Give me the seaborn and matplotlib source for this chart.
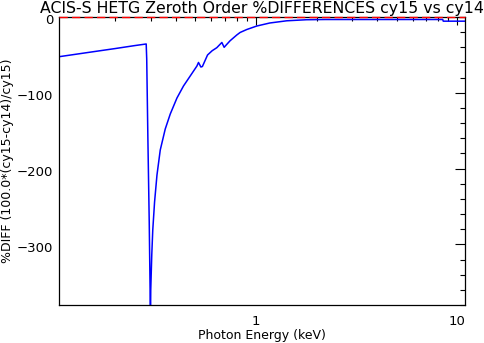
import numpy as np
import pandas as pd
import seaborn as sns
import matplotlib
matplotlib.use("Agg")
import matplotlib.pyplot as plt
from matplotlib.transforms import ScaledTranslation
from matplotlib.ticker import LogLocator, MultipleLocator, FuncFormatter, NullFormatter

# Photon energy grid (keV) and percent difference between cycles
energy_kev = [0.105, 0.150, 0.200, 0.250, 0.2846, 0.2863, 0.2902, 0.2947, 0.2982,
              0.2990, 0.2998, 0.3033, 0.3068, 0.3132, 0.3219, 0.3342, 0.3538,
              0.3747, 0.4045, 0.4360, 0.4709, 0.5082, 0.5175, 0.5320, 0.5412,
              0.5740, 0.6050, 0.6380, 0.6760, 0.6940, 0.7100, 0.7430, 0.8020,
              0.8330, 0.8990, 1.0080, 1.1700, 1.4200, 1.7800, 2.2000, 8.4500,
              8.5000, 10.900]
pct_diff = [-52.4, -46.4, -41.6, -37.7, -35.6, -55.4, -162.0, -272.0, -380.0,
            -395.0, -360.0, -314.0, -281.0, -244.0, -208.5, -175.5, -147.8,
            -128.0, -106.9, -91.0, -77.8, -64.7, -60.0, -66.0, -65.3,
            -50.1, -44.5, -40.5, -33.6, -40.0, -37.0, -31.3, -23.7,
            -20.4, -16.5, -11.9, -7.9, -5.0, -3.6, -3.3, -3.3,
            -5.5, -5.5]

x_tick_values = [1, 10]
x_tick_labels = ["1", "10"]
y_tick_values = [0, -100, -200, -300]

title = "ACIS-S HETG Zeroth Order %DIFFERENCES cy15 vs cy14"
xlabel = "Photon Energy (keV)"
ylabel = "%DIFF (100.0*(cy15-cy14)/cy15)"

df = pd.DataFrame({"energy": energy_kev, "diff": pct_diff})

sns.set_theme(style="white")
plt.rcParams["font.family"] = ["DejaVu Sans"]

W, H = 485, 343
fig = plt.figure(figsize=(W / 100, H / 100), dpi=100)
ax = fig.add_axes([59 / W, 1 - 305 / H, (465 - 59) / W, (305 - 17) / H])
ax.set_facecolor("white")

ax.set_xscale("log")
ax.set_xlim(0.105, 10.9)
ax.set_ylim(-380, 0)

# zero reference line
ax.axhline(0, color="red", lw=1.0, dashes=(6, 3), zorder=4, clip_on=False)

sns.lineplot(data=df, x="energy", y="diff", ax=ax, color="blue", lw=1.1,
             sort=False, estimator=None, legend=False)

for s in ax.spines.values():
    s.set_color("black")
    s.set_linewidth(0.9)

ax.xaxis.set_major_locator(LogLocator(base=10, numticks=10))
ax.xaxis.set_minor_locator(LogLocator(base=10, subs=np.arange(2, 10), numticks=20))
ax.xaxis.set_major_formatter(FuncFormatter(
    lambda v, p: x_tick_labels[x_tick_values.index(round(v))]
    if round(v) in x_tick_values and abs(v - round(v)) < 1e-6 else ""))
ax.xaxis.set_minor_formatter(NullFormatter())

ax.set_yticks(y_tick_values)
ax.yaxis.set_minor_locator(MultipleLocator(20))

ax.tick_params(axis="both", which="both", direction="in", top=True, right=True,
               color="black", width=0.8, labelsize=9.5, labelcolor="black")
ax.tick_params(axis="x", which="major", length=5.5, pad=7)
ax.tick_params(axis="x", which="minor", length=3)
ax.tick_params(axis="y", which="major", length=7, pad=4)
ax.tick_params(axis="y", which="minor", length=3.5)

# y tick labels sit slightly below their ticks
for lab in ax.get_yticklabels():
    lab.set_transform(lab.get_transform() + ScaledTranslation(0, -0.025, fig.dpi_scale_trans))

ax.set_title(title, fontsize=11.3, color="black", pad=3)
ax.set_xlabel(xlabel, fontsize=9, color="black", labelpad=1)
ax.set_ylabel(ylabel, fontsize=9, color="black", labelpad=2)

fig.savefig("out.png", dpi=100, facecolor="white")
